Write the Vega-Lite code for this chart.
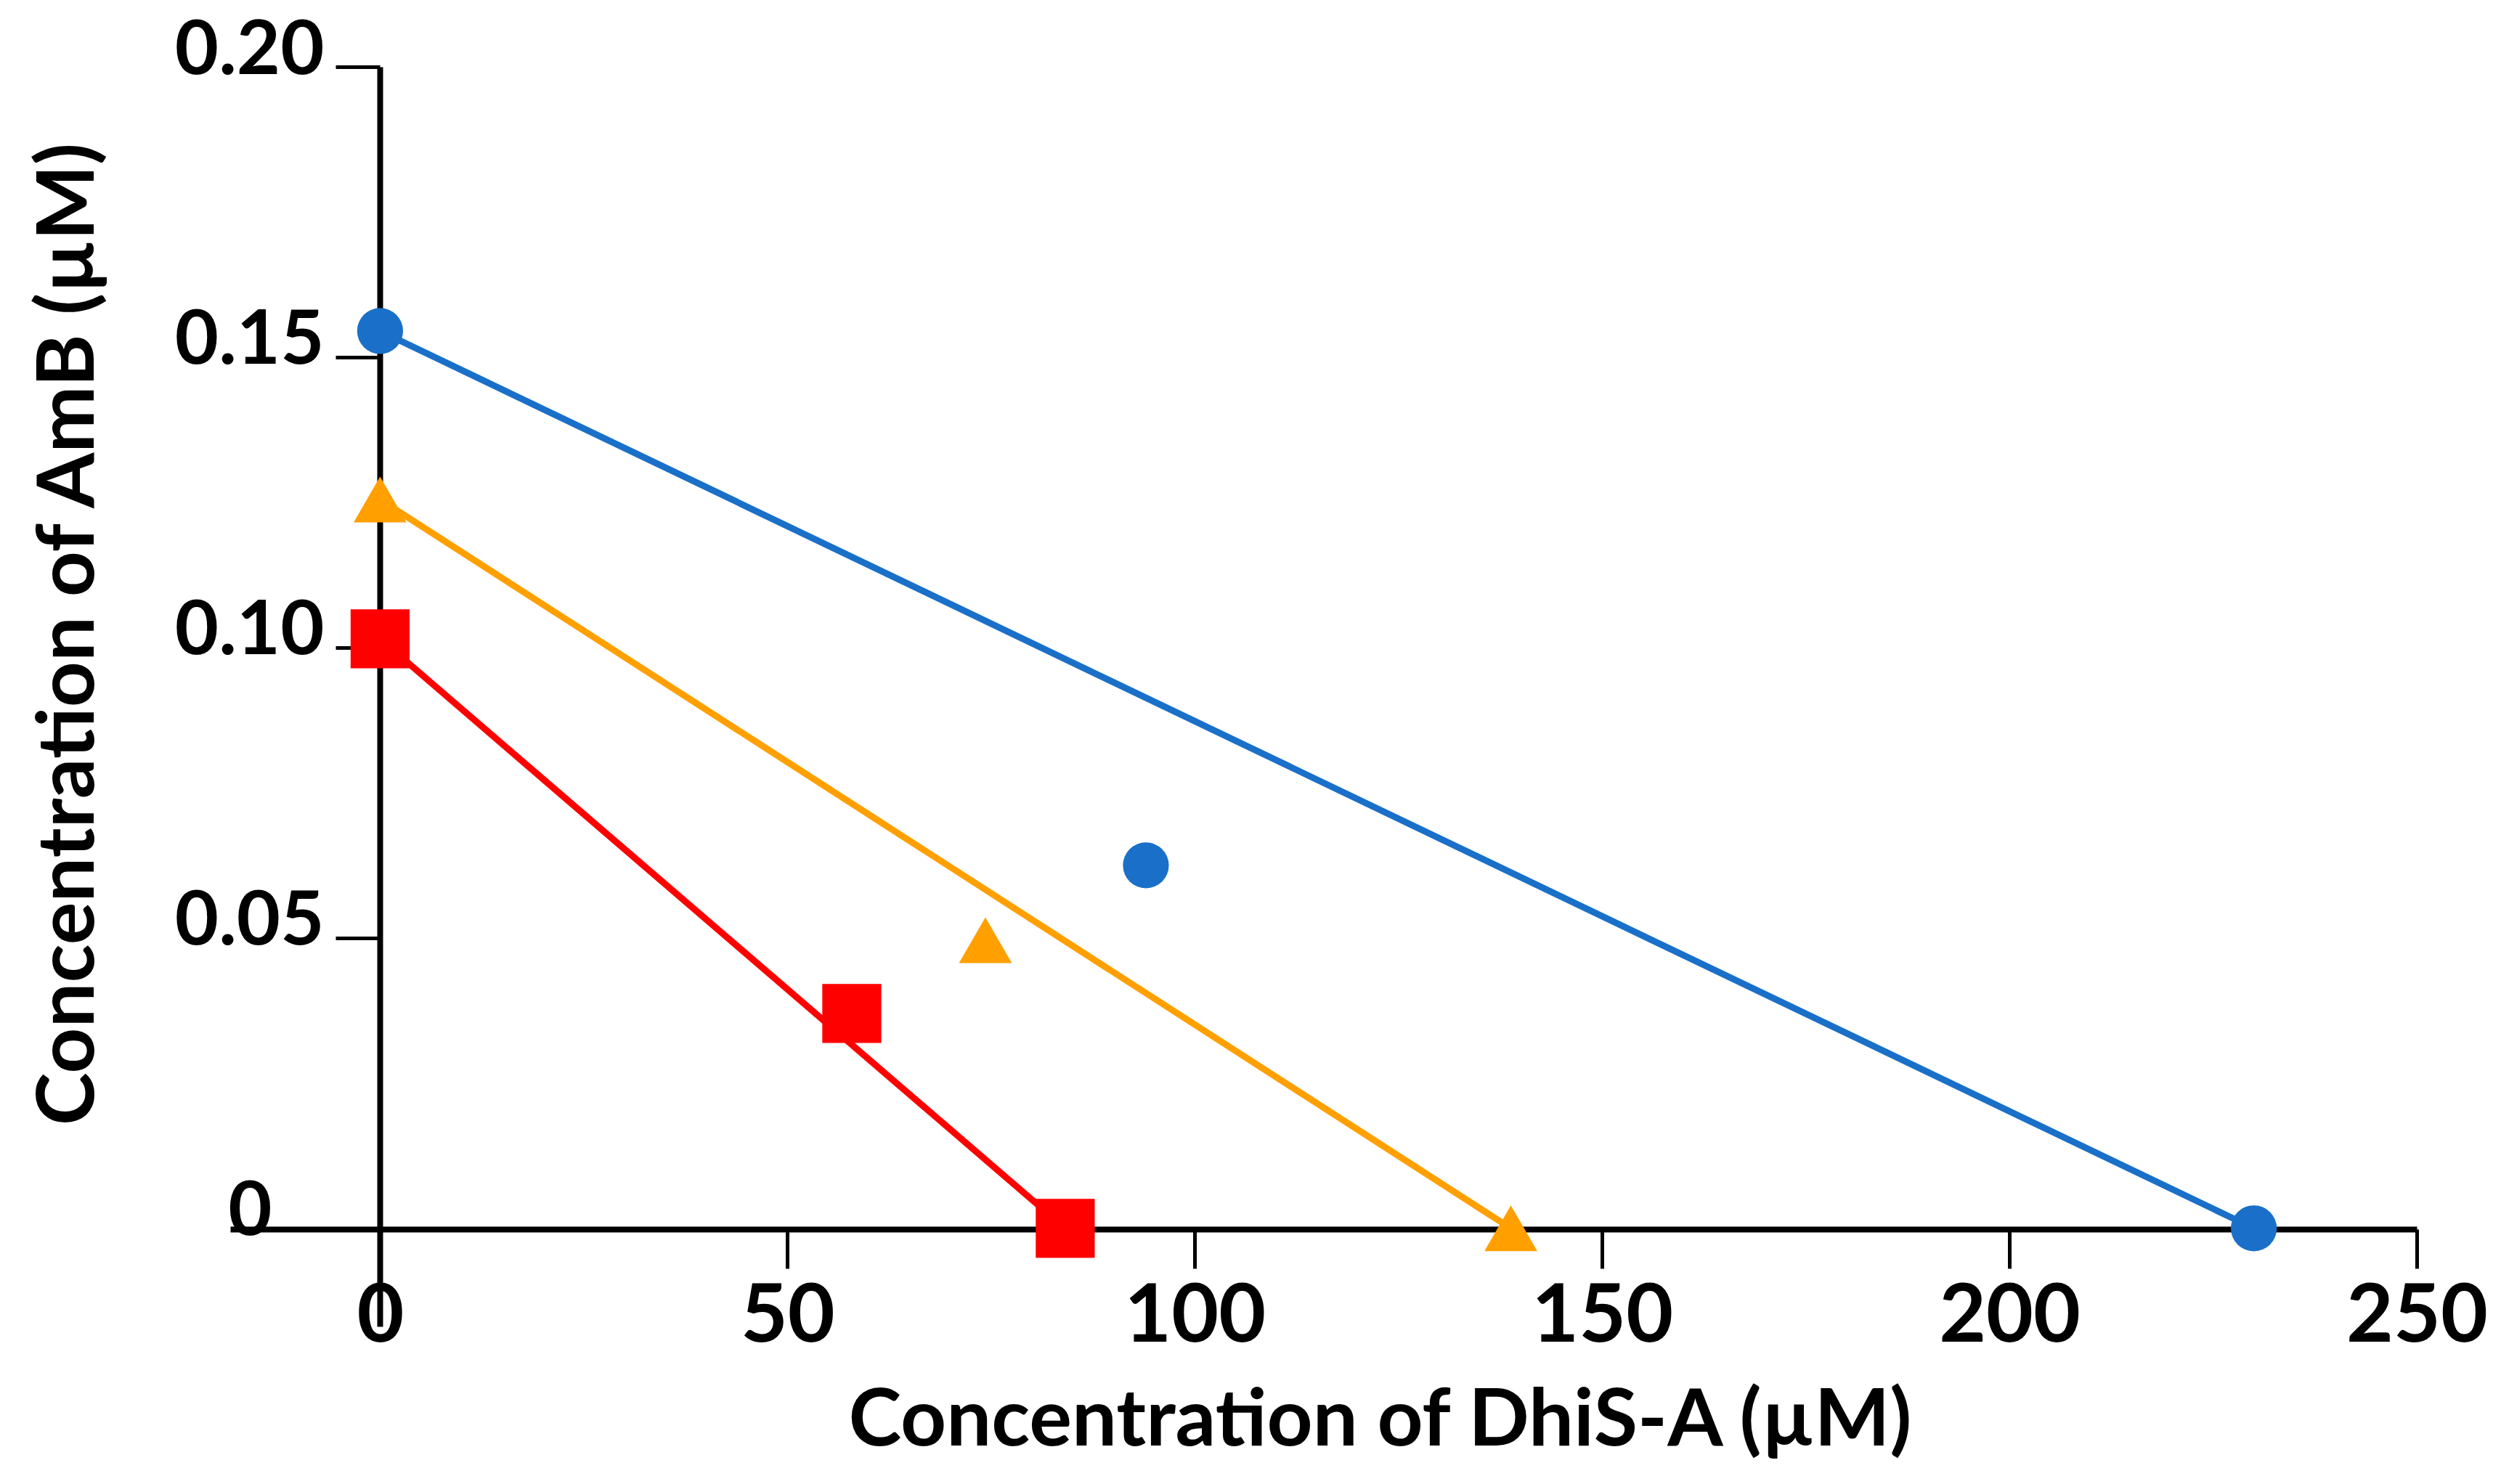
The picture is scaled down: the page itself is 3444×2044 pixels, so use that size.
{
  "$schema": "https://vega.github.io/schema/vega-lite/v6.json",
  "width": 3011,
  "height": 1735,
  "autosize": "none",
  "padding": {"left": 317, "top": 92, "right": 116, "bottom": 217},
  "background": "white",
  "config": {
    "view": {"stroke": null},
    "font": "Lato"
  },
  "data": {
    "values": [
      {"series": "S1", "dhis": 0, "amb": 0.1545, "endpoint": true},
      {"series": "S1", "dhis": 94, "amb": 0.0625, "endpoint": false},
      {"series": "S1", "dhis": 230, "amb": 0, "endpoint": true},
      {"series": "S2", "dhis": 0, "amb": 0.1255, "endpoint": true},
      {"series": "S2", "dhis": 74.3, "amb": 0.0496, "endpoint": false},
      {"series": "S2", "dhis": 138.8, "amb": 0, "endpoint": true},
      {"series": "S3", "dhis": 0, "amb": 0.1015, "endpoint": true},
      {"series": "S3", "dhis": 57.9, "amb": 0.037, "endpoint": false},
      {"series": "S3", "dhis": 84.1, "amb": 0, "endpoint": true}
    ]
  },
  "encoding": {
    "x": {
      "field": "dhis",
      "type": "quantitative",
      "title": "Concentration of DhiS-A (µM)",
      "scale": {"domain": [-18.4, 250], "nice": false, "zero": false},
      "axis": {
        "values": [0, 50, 100, 150, 200, 250],
        "offset": -134,
        "grid": false,
        "domainColor": "black",
        "domainWidth": 8,
        "tickColor": "black",
        "tickWidth": 5,
        "tickSize": 54,
        "labelFont": "Lato",
        "labelFontWeight": "bold",
        "labelFontSize": 112,
        "labelColor": "black",
        "labelPadding": 12,
        "labelLimit": 0,
        "labelFlush": false,
        "labelOverlap": false,
        "titleFont": "Lato",
        "titleFontWeight": "bold",
        "titleFontSize": 110,
        "titleColor": "black",
        "titlePadding": 34,
        "titleX": 1583
      }
    },
    "y": {
      "field": "amb",
      "type": "quantitative",
      "title": "Concentration of AmB (µM)",
      "scale": {"domain": [-0.0169, 0.2], "nice": false, "zero": false},
      "axis": {
        "values": [0, 0.05, 0.1, 0.15, 0.2],
        "labelExpr": "datum.value == 0 ? '0' : format(datum.value, '.2f')",
        "offset": -206,
        "grid": false,
        "domainColor": "black",
        "domainWidth": 8,
        "tickColor": "black",
        "tickWidth": 5,
        "tickSize": 61,
        "labelFont": "Lato",
        "labelFontWeight": "bold",
        "labelFontSize": 104,
        "labelColor": "black",
        "labelBaseline": "alphabetic",
        "labelOffset": 9,
        "labelPadding": {"condition": {"test": "datum.value == 0", "value": 88}, "value": 16},
        "labelLimit": 0,
        "labelFlush": false,
        "labelOverlap": false,
        "titleFont": "Lato",
        "titleFontWeight": "bold",
        "titleFontSize": 110,
        "titleColor": "black",
        "titlePadding": 172,
        "titleY": 781
      }
    },
    "color": {
      "field": "series",
      "type": "nominal",
      "scale": {"domain": ["S1", "S2", "S3"], "range": ["#1A70C8", "#FFA000", "#FF0000"]},
      "legend": null
    }
  },
  "layer": [
    {
      "transform": [{"filter": "datum.endpoint"}],
      "mark": {"type": "line", "strokeWidth": 9},
      "encoding": {"detail": {"field": "series"}}
    },
    {
      "mark": {"type": "point", "filled": true, "opacity": 1},
      "encoding": {
        "shape": {
          "field": "series",
          "type": "nominal",
          "scale": {"domain": ["S1", "S2", "S3"], "range": ["circle", "triangle-up", "square"]},
          "legend": null
        },
        "size": {
          "field": "series",
          "type": "nominal",
          "scale": {"domain": ["S1", "S2", "S3"], "range": [4000, 6600, 5200]},
          "legend": null
        }
      }
    }
  ]
}
